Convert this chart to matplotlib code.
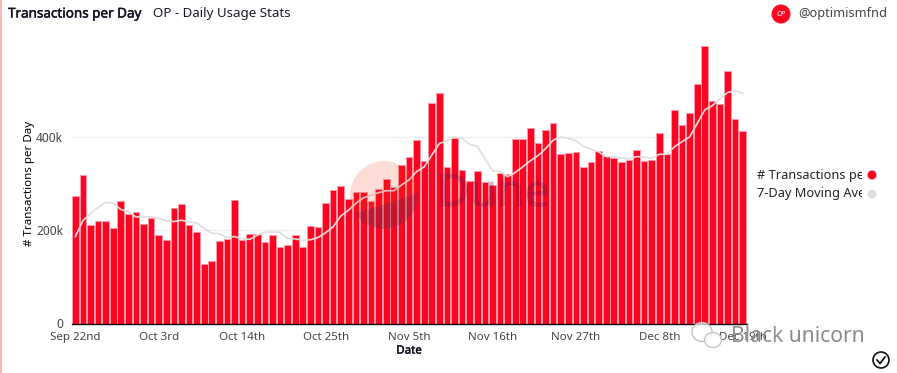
import matplotlib
matplotlib.use('Agg')
import matplotlib.pyplot as plt
import matplotlib.patheffects as pe
import pandas as pd
from matplotlib.patches import Circle, Polygon, Rectangle, Ellipse

plt.rcParams['font.family'] = ['Noto Sans', 'DejaVu Sans']

# values, in thousands
tx_per_day = [272, 317, 210, 220, 220, 204, 262, 235, 239, 212, 226, 190, 178, 246, 256, 210, 195, 128, 133, 177,
              180, 265, 179, 191, 191, 174, 189, 164, 168, 189, 164, 209, 207, 257, 286, 294, 267, 281, 282, 262,
              288, 310, 293, 340, 356, 392, 348, 472, 494, 334, 397, 328, 304, 326, 302, 296, 321, 319, 394, 395,
              419, 387, 413, 428, 362, 364, 367, 335, 346, 370, 358, 355, 345, 350, 372, 348, 350, 408, 362, 456,
              424, 450, 513, 593, 475, 469, 540, 438, 411]
moving_avg = [186, 220, 235, 248, 259, 257, 244, 239, 228, 228, 228, 225, 220, 218, 221, 217, 215, 203, 193, 192,
              184, 186, 181, 180, 189, 195, 196, 195, 182, 181, 178, 179, 184, 194, 207, 230, 242, 257, 269, 274,
              280, 284, 284, 296, 307, 325, 335, 360, 385, 391, 399, 396, 383, 379, 353, 327, 325, 314, 323, 335,
              348, 359, 374, 392, 399, 396, 391, 379, 373, 367, 357, 356, 354, 352, 357, 356, 353, 362, 362, 378,
              389, 399, 428, 457, 466, 481, 494, 498, 492]
dates = pd.date_range('2022-09-22', periods=len(tx_per_day))
tick_idx = list(range(0, len(dates), 11))
tick_labels = ['Sep 22nd', 'Oct 3rd', 'Oct 14th', 'Oct 25th', 'Nov 5th', 'Nov 16th', 'Nov 27th', 'Dec 8th', 'Dec 19th']
ytick_vals = [0, 200, 400]
ytick_labels = ['0', '200k', '400k']

W, H = 897, 373
RED = '#ff0420'
fig = plt.figure(figsize=(W / 100, H / 100), dpi=100)
ax = fig.add_axes([71.5 / W, 1 - 323.5 / H, 675 / W, 280.5 / H])

bars = ax.bar(range(len(tx_per_day)), [v * 1000 for v in tx_per_day], width=0.88, color=RED,
              edgecolor=(1, 0.6, 0.67), linewidth=0.7, zorder=2)
ax.plot(range(len(moving_avg)), [v * 1000 for v in moving_avg], color='#dedede', lw=1.2, zorder=3)

ax.set_xlim(-0.5, len(tx_per_day) - 0.5)
ax.set_ylim(0, 600000)
ax.set_yticks([v * 1000 for v in ytick_vals])
ax.set_yticklabels(ytick_labels, fontsize=8.6, color='#444444')
ax.set_xticks(tick_idx)
ax.set_xticklabels(tick_labels, fontsize=8.3, color='#444444')
ax.tick_params(length=0, pad=6)
ax.grid(axis='y', color='#eeeeee', lw=1, zorder=0)
ax.set_axisbelow(True)
for s in ['top', 'right', 'left']:
    ax.spines[s].set_visible(False)
ax.spines['bottom'].set_color('#111111')
ax.spines['bottom'].set_linewidth(1)
# the installed font has no usable bold here, so thicken with a thin stroke
heavy = [pe.withStroke(linewidth=0.3, foreground='#111122')]
ax.set_xlabel('Date', fontsize=8.3, color='#111122', labelpad=2, path_effects=heavy)
ax.set_ylabel('# Transactions per Day', fontsize=8.3, color='#000000', labelpad=1)

# overlay in pixel coordinates for everything around the plot
ov = fig.add_axes([0, 0, 1, 1], facecolor='none')
ov.set_xlim(0, W)
ov.set_ylim(H, 0)
ov.axis('off')

ov.add_patch(Rectangle((0, 0), 1.5, H, color='#ffb8b8', lw=0))
ov.text(8, 14, 'Transactions per Day', fontsize=9.7, color='#111122', va='center', path_effects=heavy)
ov.text(153, 14, 'OP - Daily Usage Stats', fontsize=9.6, color='#1a1a2a', va='center')

ov.add_patch(Circle((781, 14), 9.5, color=RED, lw=0))
ov.text(781, 14, 'OP', fontsize=5, color='white', fontweight='bold', style='italic', ha='center', va='center')
ov.text(798, 14, '@optimismfnd', fontsize=9.2, color='#444444', va='center')

# legend, its labels are cut off in the chart
legend_clip = Rectangle((750, 160), 112, 45, transform=ov.transData)
for y, label, c in [(175, '# Transactions per Day', RED), (194, '7-Day Moving Average', '#dcdcdc')]:
    t = ov.text(757, y, label, fontsize=9.2, color='#222222', va='center', clip_on=True)
    t.set_clip_path(legend_clip)
    ov.add_patch(Circle((872, y), 4.5, color=c, lw=0))

# Dune watermark
ov.add_patch(Circle((384, 195), 34, color='#f03a10', alpha=0.17, lw=0, zorder=1))
dark = Circle((384, 195), 34, color='#203060', alpha=0.24, lw=0, zorder=5)
ov.add_patch(dark)
dark.set_clip_path(Polygon([(348, 215), (383, 205), (420, 192), (420, 232), (348, 232)], transform=ov.transData))
ov.text(437, 195, 'Dune', fontsize=32, color='#402050', alpha=0.13, va='center', zorder=5,
        path_effects=[pe.withStroke(linewidth=1.5, foreground='#402050', alpha=0.13)])

# wechat mark and check icon
for (cx, cy, rx, ry) in [(702, 332, 10, 9.5), (713, 340, 8.5, 7.5)]:
    ov.add_patch(Ellipse((cx, cy), 2 * rx, 2 * ry, fc=(1, 1, 1, 0.7), ec='#c4c4c4', lw=1, zorder=6))
ov.text(731, 337, 'Black unicorn', fontsize=15.2, color='#8c8c8c', va='center', zorder=7)
ov.add_patch(Circle((881, 360), 8, fc='white', ec='#111111', lw=1.2))
ov.plot([877, 880, 885], [360, 363.5, 357], color='#111111', lw=1.3)

fig.savefig('out.png', dpi=100)
